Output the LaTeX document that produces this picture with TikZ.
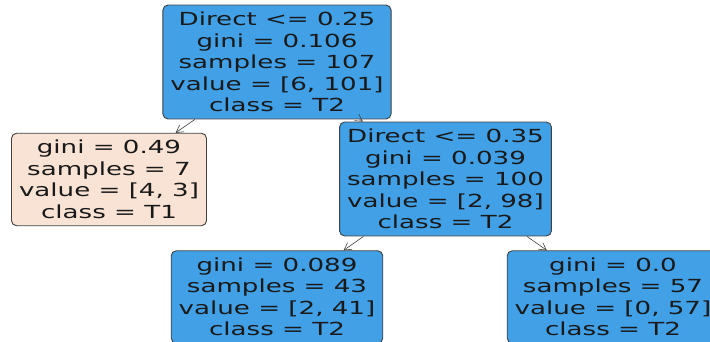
\documentclass[tikz,border=0pt]{standalone}
\usepackage{fontspec}
\usetikzlibrary{positioning,arrows.meta}
\newfontfamily\treefont[FakeStretch=1.45]{DejaVu Sans}
\definecolor{splitBlue}{HTML}{41A0E6}
\definecolor{leafPeach}{HTML}{F9E3D5}
\definecolor{edgeGray}{HTML}{404040}

\begin{document}
\begin{tikzpicture}[
    x=1pt, y=-1pt,
    treeNode/.style={rectangle, rounded corners=5pt, draw=edgeGray, line width=0.9pt, fill=splitBlue, text=black!90, align=center, inner xsep=7.5pt, inner ysep=7pt, font=\treefont\fontsize{18}{21.5}\selectfont},
    peachNode/.style={treeNode, fill=leafPeach},
    arrowStyle/.style={-{Straight Barb[length=7pt, width=8pt]}, line width=0.6pt, draw=edgeGray}
]
    \clip (0,0) rectangle (710,342);

    \node[treeNode] (root) at (277,62) {Direct <= 0.25\\gini = 0.106\\samples = 107\\value = [6, 101]\\class = T2};
    \node[peachNode] (leafT1) at (109,179.5) {gini = 0.49\\samples = 7\\value = [4, 3]\\class = T1};
    \node[treeNode] (split) at (445.5,179) {Direct <= 0.35\\gini = 0.039\\samples = 100\\value = [2, 98]\\class = T2};
    \node[treeNode] (leafLeft) at (277,297) {gini = 0.089\\samples = 43\\value = [2, 41]\\class = T2};
    \node[treeNode] (leafRight) at (613,297) {gini = 0.0\\samples = 57\\value = [0, 57]\\class = T2};

    \draw[arrowStyle] (root) -- (leafT1);
    \draw[arrowStyle] (root) -- (split);
    \draw[arrowStyle] (split) -- (leafLeft);
    \draw[arrowStyle] (split) -- (leafRight);
\end{tikzpicture}
\end{document}
